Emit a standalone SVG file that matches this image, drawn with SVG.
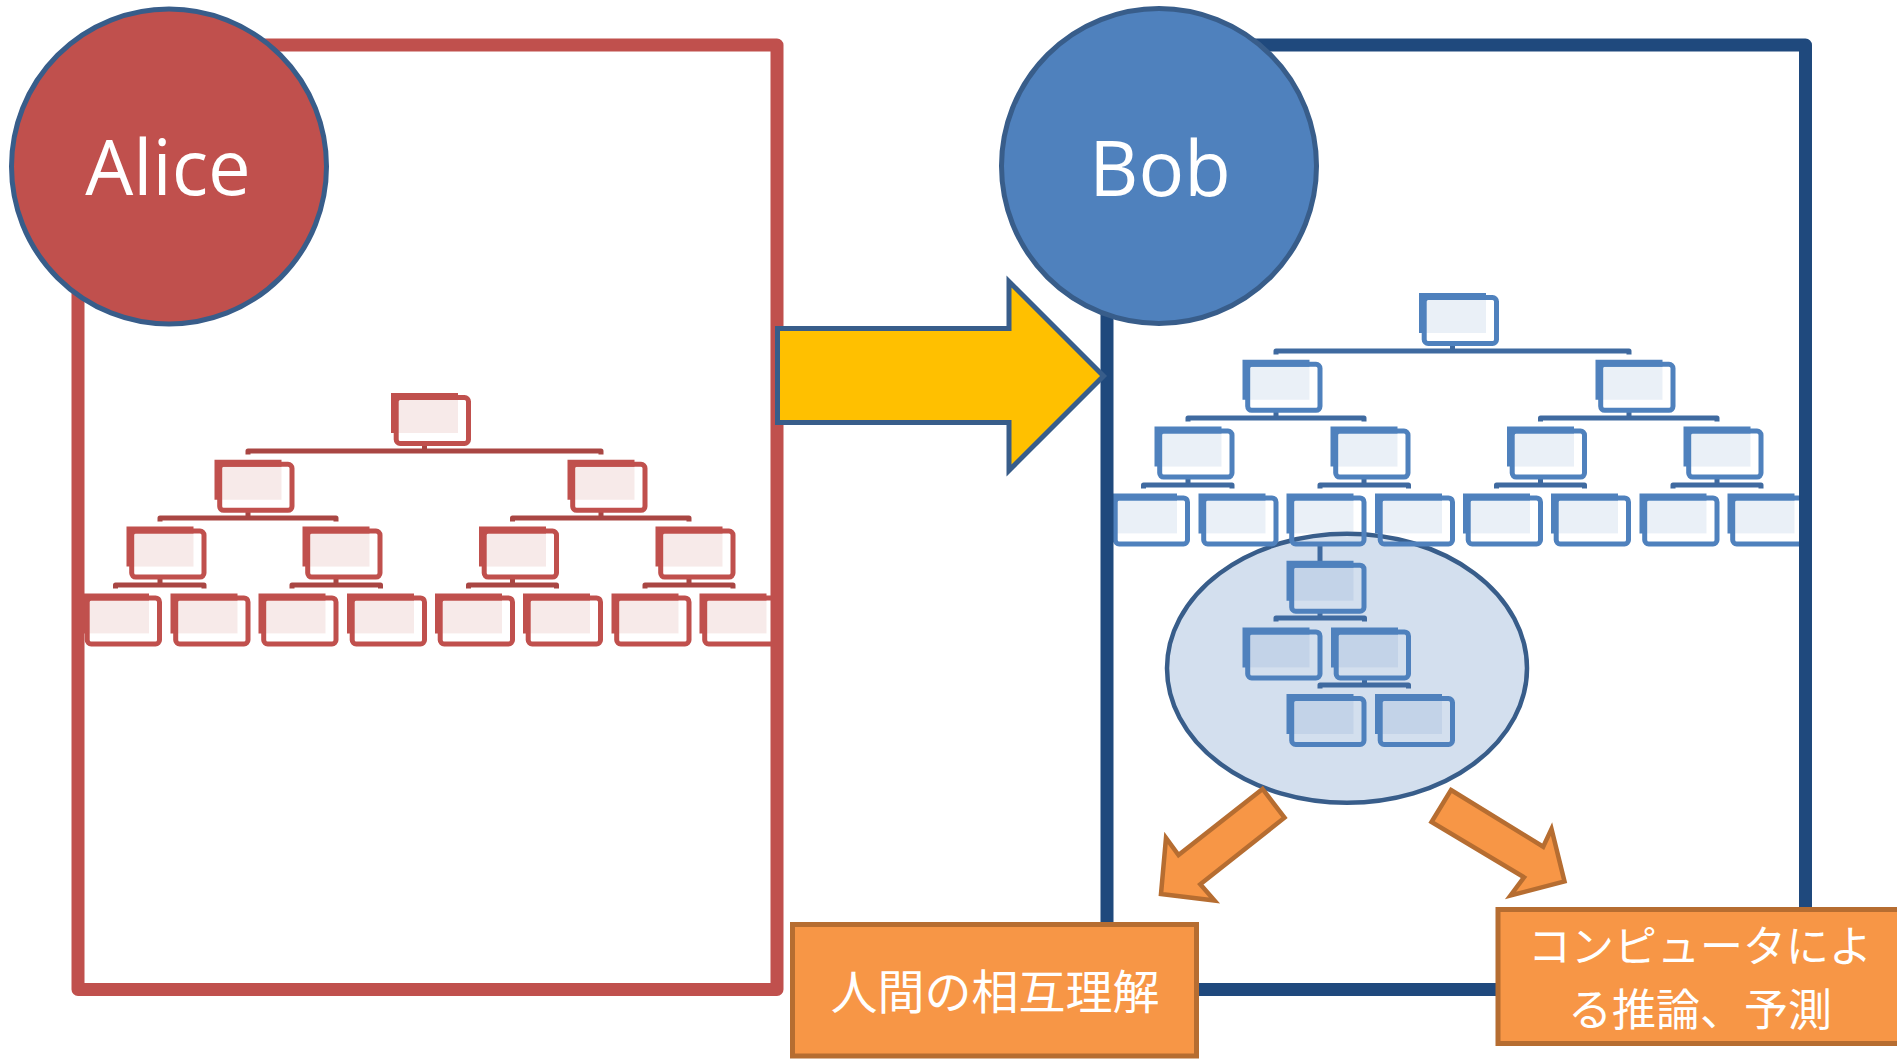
<svg xmlns="http://www.w3.org/2000/svg" xmlns:xlink="http://www.w3.org/1999/xlink" width="1897" height="1059" viewBox="0 0 1897 1059">
<style>
.red{color:#C0504D}
.blue{color:#4F81BD}
.barA{fill:none;stroke:#A94643;stroke-width:5;stroke-linejoin:round}
.barB{fill:none;stroke:#3F6AA0;stroke-width:5;stroke-linejoin:round}
.frame{fill:none;stroke-width:13;stroke-linejoin:round}
.circ{stroke:#385D8A;stroke-width:5}
.name{font-family:"Open Sans","Liberation Sans",sans-serif;font-size:76px;fill:#FFFFFF;text-anchor:middle}
.obox{fill:#F79646;stroke:#B66D31;stroke-width:5}
.oarrow{fill:#F79646;stroke:#B66D31;stroke-width:4.5;stroke-linejoin:miter}
.jp{font-family:"Noto Sans CJK JP","Noto Sans CJK SC",sans-serif;fill:#FFFFFF;text-anchor:middle}
</style>
<defs>
<g id="nd">
<rect x="7" y="7" width="60" height="33" fill="currentColor" fill-opacity="0.12"/>
<rect x="5.2" y="4.5" width="72.3" height="46" rx="4" fill="none" stroke="currentColor" stroke-width="5"/>
<path d="M3.5,40 V3.5 H67" fill="none" stroke="currentColor" stroke-width="7"/>
</g>
</defs>
<rect width="1897" height="1059" fill="#FFFFFF"/>

<g id="focus-ellipse">
<ellipse cx="1347" cy="668.3" rx="180" ry="134.5" fill="#D3DFEE" stroke="#385D8A" stroke-width="4.5"/>
</g>

<g id="connectors">
<path class="barA" d="M424.5,445 V451 M248,454.5 V451 H601 V454.5"/>
<path class="barA" d="M248,512 V518 M160,521.5 V518 H336 V521.5"/>
<path class="barA" d="M601,512 V518 M512.5,521.5 V518 H689 V521.5"/>
<path class="barA" d="M160,579 V585 M115.5,588.5 V585 H204 V588.5"/>
<path class="barA" d="M336,579 V585 M292,588.5 V585 H380.5 V588.5"/>
<path class="barA" d="M512.5,579 V585 M468.5,588.5 V585 H556.5 V588.5"/>
<path class="barA" d="M689,579 V585 M645,588.5 V585 H733 V588.5"/>
<path class="barB" d="M1452.5,345 V351 M1276,354.5 V351 H1629 V354.5"/>
<path class="barB" d="M1276,412 V418 M1188,421.5 V418 H1364 V421.5"/>
<path class="barB" d="M1629,412 V418 M1540.5,421.5 V418 H1717 V421.5"/>
<path class="barB" d="M1188,479 V485 M1143.5,488.5 V485 H1232 V488.5"/>
<path class="barB" d="M1364,479 V485 M1320,488.5 V485 H1408.5 V488.5"/>
<path class="barB" d="M1540.5,479 V485 M1496.5,488.5 V485 H1584.5 V488.5"/>
<path class="barB" d="M1717,479 V485 M1673,488.5 V485 H1761 V488.5"/>
<path class="barB" d="M1320,545 V561"/>
<path class="barB" d="M1320,612 V618 M1276,621.5 V618 H1364.5 V621.5"/>
<path class="barB" d="M1364.5,679 V685 M1320,688.5 V685 H1408.5 V688.5"/>
</g>

<g id="alice-tree" class="red">
<g id="a-root" transform="translate(391,393)"><use xlink:href="#nd" href="#nd"/></g>
<g id="a-2-1" transform="translate(214.5,459.8)"><use xlink:href="#nd" href="#nd"/></g>
<g id="a-2-2" transform="translate(567.5,459.8)"><use xlink:href="#nd" href="#nd"/></g>
<g id="a-3-1" transform="translate(126.5,526.6)"><use xlink:href="#nd" href="#nd"/></g>
<g id="a-3-2" transform="translate(302.5,526.6)"><use xlink:href="#nd" href="#nd"/></g>
<g id="a-3-3" transform="translate(479,526.6)"><use xlink:href="#nd" href="#nd"/></g>
<g id="a-3-4" transform="translate(655.5,526.6)"><use xlink:href="#nd" href="#nd"/></g>
<g id="a-4-1" transform="translate(82,593.4)"><use xlink:href="#nd" href="#nd"/></g>
<g id="a-4-2" transform="translate(170.5,593.4)"><use xlink:href="#nd" href="#nd"/></g>
<g id="a-4-3" transform="translate(258.5,593.4)"><use xlink:href="#nd" href="#nd"/></g>
<g id="a-4-4" transform="translate(347,593.4)"><use xlink:href="#nd" href="#nd"/></g>
<g id="a-4-5" transform="translate(435,593.4)"><use xlink:href="#nd" href="#nd"/></g>
<g id="a-4-6" transform="translate(523,593.4)"><use xlink:href="#nd" href="#nd"/></g>
<g id="a-4-7" transform="translate(611.5,593.4)"><use xlink:href="#nd" href="#nd"/></g>
<g id="a-4-8" transform="translate(699.5,593.4)"><use xlink:href="#nd" href="#nd"/></g>
</g>

<g id="bob-tree" class="blue">
<g id="b-root" transform="translate(1419,293)"><use xlink:href="#nd" href="#nd"/></g>
<g id="b-2-1" transform="translate(1242.5,359.8)"><use xlink:href="#nd" href="#nd"/></g>
<g id="b-2-2" transform="translate(1595.5,359.8)"><use xlink:href="#nd" href="#nd"/></g>
<g id="b-3-1" transform="translate(1154.5,426.6)"><use xlink:href="#nd" href="#nd"/></g>
<g id="b-3-2" transform="translate(1330.5,426.6)"><use xlink:href="#nd" href="#nd"/></g>
<g id="b-3-3" transform="translate(1507,426.6)"><use xlink:href="#nd" href="#nd"/></g>
<g id="b-3-4" transform="translate(1683.5,426.6)"><use xlink:href="#nd" href="#nd"/></g>
<g id="b-4-1" transform="translate(1110,493.4)"><use xlink:href="#nd" href="#nd"/></g>
<g id="b-4-2" transform="translate(1198.5,493.4)"><use xlink:href="#nd" href="#nd"/></g>
<g id="b-4-3" transform="translate(1286.5,493.4)"><use xlink:href="#nd" href="#nd"/></g>
<g id="b-4-4" transform="translate(1375,493.4)"><use xlink:href="#nd" href="#nd"/></g>
<g id="b-4-5" transform="translate(1463,493.4)"><use xlink:href="#nd" href="#nd"/></g>
<g id="b-4-6" transform="translate(1551,493.4)"><use xlink:href="#nd" href="#nd"/></g>
<g id="b-4-7" transform="translate(1639.5,493.4)"><use xlink:href="#nd" href="#nd"/></g>
<g id="b-4-8" transform="translate(1727.5,493.4)"><use xlink:href="#nd" href="#nd"/></g>
<g id="e-1" transform="translate(1286.5,560.7)"><use xlink:href="#nd" href="#nd"/></g>
<g id="e-2" transform="translate(1242.5,627.4)"><use xlink:href="#nd" href="#nd"/></g>
<g id="e-3" transform="translate(1331,627.4)"><use xlink:href="#nd" href="#nd"/></g>
<g id="e-4" transform="translate(1286.5,694)"><use xlink:href="#nd" href="#nd"/></g>
<g id="e-5" transform="translate(1375,694)"><use xlink:href="#nd" href="#nd"/></g>
</g>

<g id="alice-frame"><rect class="frame" x="78" y="45" width="699" height="944.5" stroke="#C0504D"/></g>
<g id="bob-frame"><rect class="frame" x="1107" y="45" width="698.5" height="944.5" stroke="#1F497D"/></g>

<g id="alice">
<circle class="circ" cx="169" cy="166.5" r="157.5" fill="#C0504D"/>
<text class="name" x="168" y="195">Alice</text>
</g>
<g id="bob">
<circle class="circ" cx="1159" cy="166" r="157.5" fill="#4F81BD"/>
<text class="name" x="1160" y="196">Bob</text>
</g>

<g id="transfer-arrow">
<path d="M777.5,328.5 H1009 V281.5 L1103.5,376 L1009,470.5 V422.5 H777.5 Z" fill="#FFC000" stroke="#385D8A" stroke-width="5"/>
</g>

<g id="out-arrows">
<polygon class="oarrow" points="1262.6,789 1284.5,817.7 1200.3,884.3 1214.5,900.5 1161,894 1166,838 1178.5,855"/>
<polygon class="oarrow" points="1451,790 1543.2,846.7 1551.5,829 1564.5,881.5 1510.5,895.5 1524,877.3 1431.5,822"/>
</g>

<g id="human-box">
<rect class="obox" x="792.5" y="924.5" width="404" height="131.5"/>
<text class="jp" x="995" y="1009" font-size="47">人間の相互理解</text>
</g>
<g id="computer-box">
<rect class="obox" x="1498" y="909.5" width="410" height="134"/>
<text class="jp" font-size="43"><tspan x="1700" y="962">コンピュータによ</tspan><tspan x="1700" y="1026" font-size="44">る推論、予測</tspan></text>
</g>
</svg>
